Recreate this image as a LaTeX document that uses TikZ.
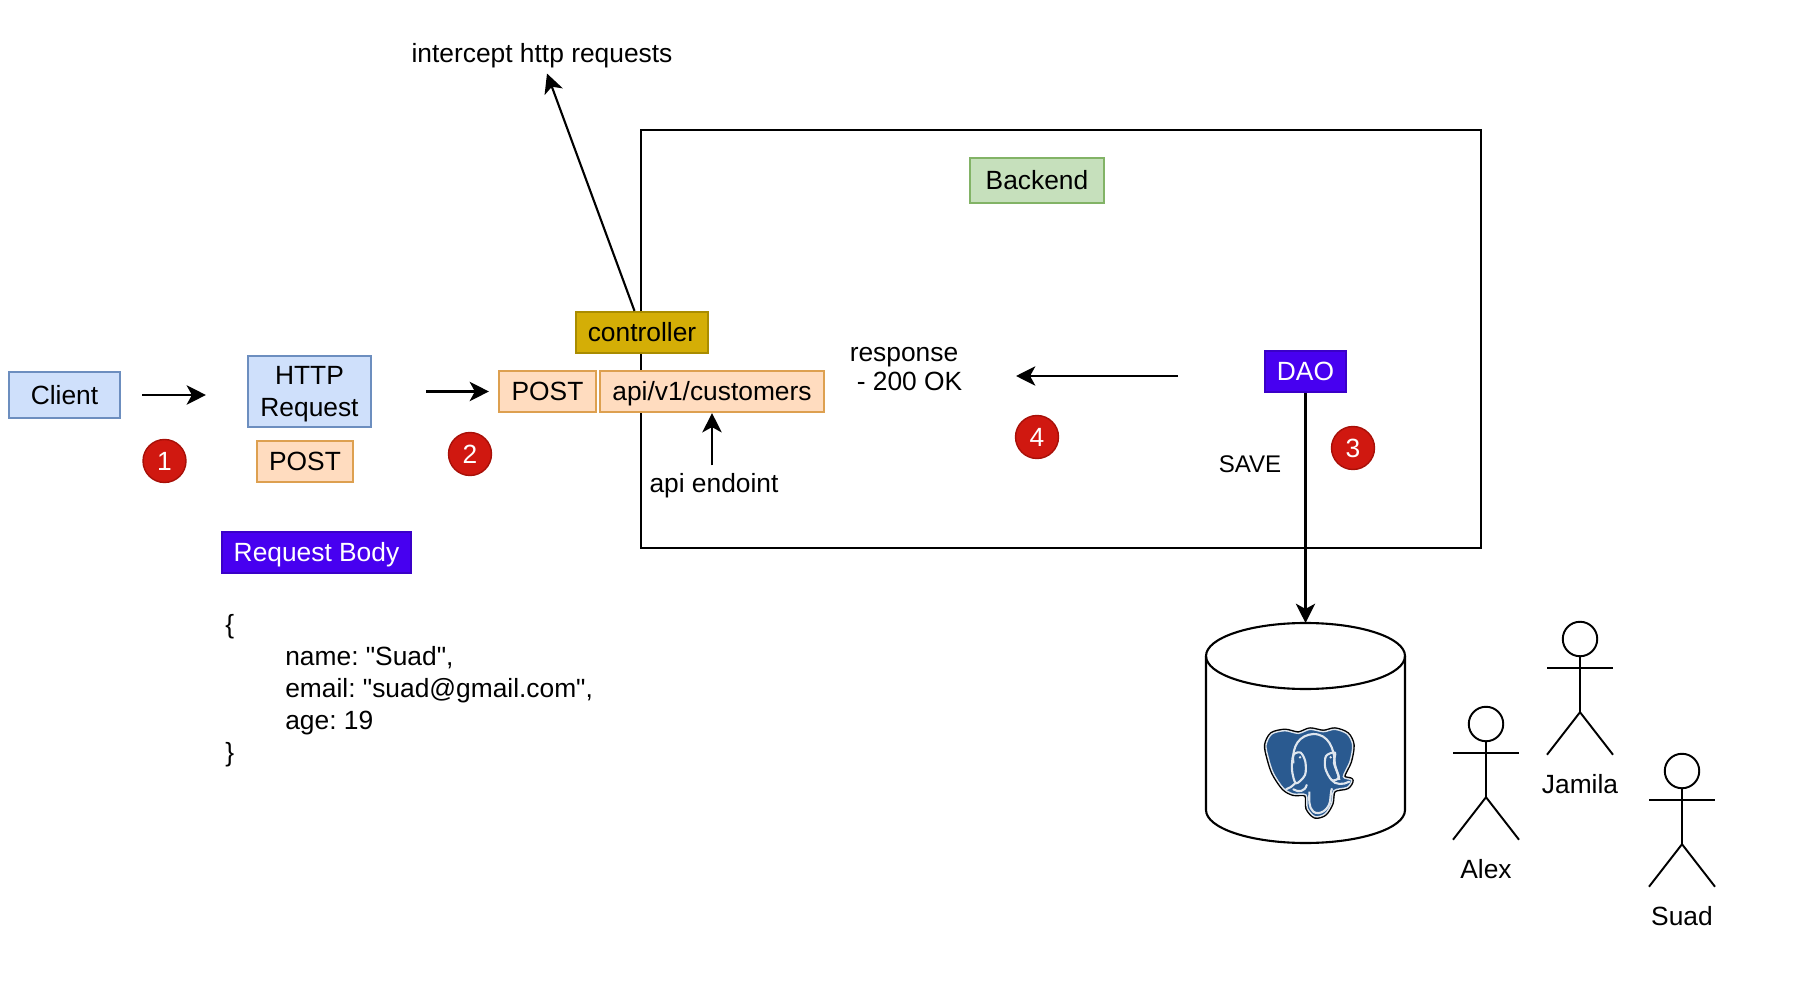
\documentclass[tikz,border=0pt]{standalone}
\usepackage{fontspec}
\setmainfont{Liberation Sans}[Ligatures=TeXOff]
\frenchspacing
\usetikzlibrary{arrows.meta}
\definecolor{blueFill}{HTML}{CFE0FB}
\definecolor{blueEdge}{HTML}{6C8EBF}
\definecolor{orangeFill}{HTML}{FFDCBF}
\definecolor{orangeEdge}{HTML}{DDA050}
\definecolor{greenFill}{HTML}{C6E0BC}
\definecolor{greenEdge}{HTML}{82B366}
\definecolor{goldFill}{HTML}{D4AE06}
\definecolor{goldEdge}{HTML}{A98C00}
\definecolor{purpleFill}{HTML}{4700F0}
\definecolor{purpleEdge}{HTML}{3A00C8}
\definecolor{redFill}{HTML}{D01810}
\definecolor{redEdge}{HTML}{A81008}
\definecolor{pgBlue}{HTML}{2A5A90}
\colorlet{pgLine}{white!85!pgBlue}
\tikzstyle{box}=[rectangle, draw, line width=1.2pt, inner sep=0pt, align=center, text height=10.7pt, text depth=.3pt]
\tikzstyle{blue box} = [box, fill=blueFill, draw=blueEdge]
\tikzstyle{orange box} = [box, fill=orangeFill, draw=orangeEdge]
\tikzstyle{green box} = [box, fill=greenFill, draw=greenEdge]
\tikzstyle{gold box} = [box, fill=goldFill, draw=goldEdge]
\tikzstyle{purple box} = [box, fill=purpleFill, draw=purpleEdge, text=white]
\tikzstyle{badge} = [circle, fill=redFill, draw=redEdge, line width=0.8pt, text=white, minimum size=.86cm, inner sep=0pt]
\tikzstyle{caption} = [inner sep=4.5pt]
\tikzstyle{edge} = [draw, line width=1.2pt, -{Stealth[length=11pt,width=11pt,inset=3pt]}]
\tikzstyle{stick} = [draw, line width=1.1pt]
\tikzstyle{actor head} = [circle, draw, line width=1.1pt, minimum size=.69cm, inner sep=0pt]
\newcommand{\elephantOutline}{plot[smooth cycle] coordinates {(18,75) (35,42) (75,32) (115,40) (150,28) (190,35) (225,28) (262,42) (278,75) (270,125) (250,170) (275,180) (262,202) (222,212) (215,250) (195,282) (165,290) (142,265) (138,225) (100,222) (70,205) (40,160) (25,115)}}

\begin{document}
\begin{tikzpicture}[x=0.02cm, y=-0.02cm, font=\fontsize{15}{18}\selectfont]
    \useasboundingbox (0,0) rectangle (1805,989);
    % The backend frame goes first, the boxes sit on top of it
    \node[draw, line width=1.2pt, minimum width=16.8cm, minimum height=8.36cm] (Frame) at (1061,339) {};

    % Boxes
    \node[blue box, minimum width=2.22cm, minimum height=.92cm] (Client) at (64.5,395) {Client};
    \node[blue box, text height=, text depth=, minimum width=2.46cm, minimum height=1.42cm] (HTTP) at (309.5,391.5) {\rule{0pt}{13.5pt}HTTP\\Request};
    \node[orange box, minimum width=1.92cm, minimum height=.82cm] (MethodA) at (305,461.5) {POST};
    \node[orange box, minimum width=1.94cm, minimum height=.82cm] (MethodB) at (547.5,391.5) {POST};
    \node[orange box, minimum width=4.48cm, minimum height=.82cm] (Api) at (712,391.5) {api/v1/customers};
    \node[gold box, minimum width=2.64cm, minimum height=.82cm] (Controller) at (642,332.5) {controller};
    \node[green box, minimum width=2.67cm, minimum height=.9cm] (Backend) at (1037,180.5) {Backend};
    \node[purple box, minimum width=1.62cm, minimum height=.82cm] (DAO) at (1305.5,371.5) {DAO};
    \node[purple box, minimum width=3.78cm, minimum height=.82cm] (Body) at (316.5,552.5) {Request Body};

    % Free texts
    \node[caption] (Intercept) at (542,56) {intercept http requests};
    \node[caption] (Endpoint) at (714,486) {api endoint};
    \node[caption, font=\fontsize{13.7}{16}\selectfont] (Save) at (1250,464) {SAVE};
    \node[caption, align=left, font=\fontsize{15}{16.5}\selectfont] (Response) at (906,369) {response\\\hspace*{.14cm}- 200 OK};
    \node[caption, align=left, anchor=west, inner sep=0pt, font=\fontsize{15}{18.2}\selectfont] (Json) at (225,691)
        {\{\\\hspace*{1.2cm}name: "Suad",\\\hspace*{1.2cm}email: "suad@gmail.com",\\\hspace*{1.2cm}age: 19\\\}};

    % Numbered badges
    \foreach \pos/\name/\num in {{(164.5,461)/BadgeA/1}, {(470,454)/BadgeB/2}, {(1353,448)/BadgeC/3}, {(1037,437)/BadgeD/4}}
        \node[badge] (\name) at \pos {\num};

    % Database
    \coordinate (DB) at (1305.5,623);
    \draw[line width=1.2pt] (1206,656) -- (1206,810) arc[start angle=180, end angle=0, x radius=99.5, y radius=33] -- (1405,656);
    \draw[line width=1.2pt] (1305.5,656) ellipse [x radius=99.5, y radius=33];
    \begin{scope}[shift={(1260,720)}, x=0.00667cm, y=-0.00667cm]
        \draw[black, line width=2.4pt, line join=round] \elephantOutline;
        \draw[pgLine, fill=pgBlue, line width=.8pt, line join=round] \elephantOutline;
        \draw[pgLine, line width=1.2pt, line join=round]
            (148,215) .. controls (148,240) and (145,262) .. (160,275) .. controls (178,288) and (205,270) .. (210,245) .. controls (212,230) and (212,215) .. (216,205)
            (100,130) .. controls (95,75) and (120,45) .. (160,42) .. controls (205,42) and (222,85) .. (224,125) .. controls (226,150) and (238,165) .. (238,180);
        \draw[pgLine, line width=1.2pt, line join=round]
            plot[smooth cycle] coordinates {(100,105) (122,98) (136,125) (135,165) (108,190) (96,150)}
            plot[smooth cycle] coordinates {(198,108) (225,98) (222,130) (236,172) (215,180) (196,145)};
        \draw[pgLine, line width=1.2pt, line cap=round]
            (105,190) .. controls (95,200) and (88,205) .. (78,208)
            (100,208) .. controls (115,218) and (135,215) .. (140,195)
            (215,180) .. controls (225,195) and (250,195) .. (268,185);
        \fill[pgLine] (120,112) circle (4) (212,112) circle (4);
    \end{scope}

    % Actors
    \foreach \pos/\name in {{(1486,724)/Alex}, {(1580,639)/Jamila}, {(1682,771)/Suad}} {
        \node[actor head] (\name) at \pos {};
        \path[stick] (\name.south) -- ++(0,55) -- ++(-33,42.5) ++(33,-42.5) -- ++(33,42.5);
        \path[stick] (\name.south) ++(-33,10.7) -- ++(66,0);
        \path (\name) ++(0,145.5) node (\name Label) {\name};
    }

    % Connect boxes with edges
    \path[edge, shorten <=.42cm, shorten >=.82cm] (Client.east) -- (Client.east -| HTTP.west);
    \path[edge, shorten <=1.08cm, shorten >=.18cm] (HTTP.east) -- (MethodB.west);
    \path[edge] (Api.south |- Endpoint.north) -- (Api.south);
    \path[edge] ([xshift=-.15cm]Controller.north) -- ([xshift=.1cm,yshift=.06cm]Intercept.south);
    \path[edge] (DAO) -- (DB);
    \coordinate (ReturnStart) at (1178,376);
    \coordinate (ReturnEnd) at (1016,376);
    \path[edge] (ReturnStart) -- (ReturnEnd);
\end{tikzpicture}
\end{document}
